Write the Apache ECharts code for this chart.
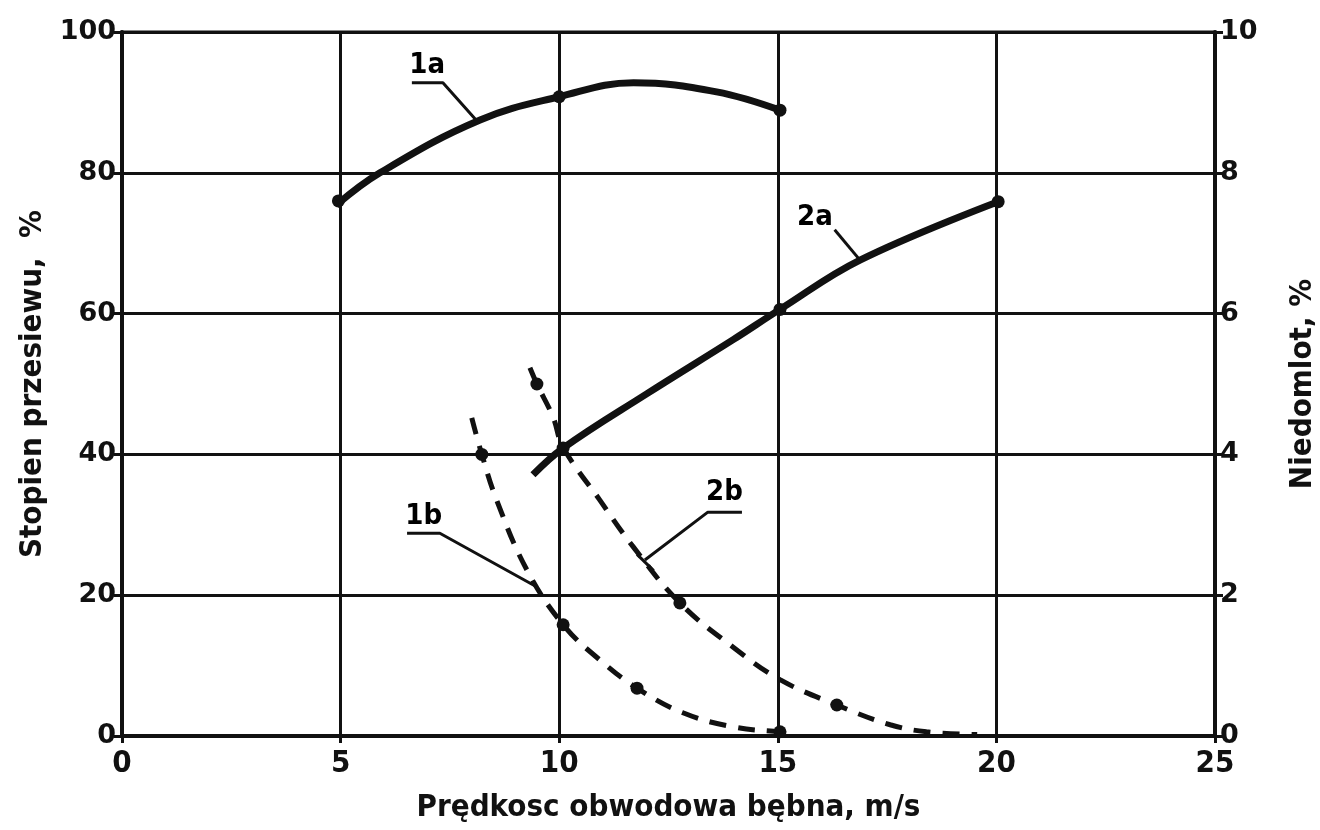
<!DOCTYPE html>
<html>
<head>
<meta charset="utf-8">
<script src="https://cdn.jsdelivr.net/npm/echarts@6/dist/echarts.min.js"></script>
<style>
  html, body { margin: 0; padding: 0; background: #fff; }
  #chart { width: 1320px; height: 830px; }
</style>
</head>
<body>
<div id="chart"></div>
<script>
// solid curves, left axis (%)
const curve1a = [[4.9, 75.4], [5.9, 80], [8.19, 87.5], [10, 90.8], [11.7, 92.8], [13.6, 91.5], [15.05, 88.9]];
const pts1a = [[4.95, 76], [10, 90.8], [15.05, 88.9]];
const curve2a = [[9.4, 37.1], [10.09, 40.9], [12, 48.6], [13.98, 56.3], [15.05, 60.6], [16.88, 67.6], [20.04, 75.9]];
const pts2a = [[10.09, 40.9], [15.05, 60.6], [20.04, 75.9]];

// dashed curves, right axis (%)
const curve1b = [[8.0, 4.52], [8.23, 4.0], [8.57, 3.35], [9.26, 2.36], [10.09, 1.58], [10.93, 1.08], [11.78, 0.68], [12.83, 0.33], [13.98, 0.13], [15.05, 0.06], [15.4, 0.05]];
const pts1b = [[8.23, 4.0], [10.09, 1.58], [11.78, 0.68], [15.05, 0.06]];
const curve2b = [[9.33, 5.23], [9.49, 5.0], [9.86, 4.53], [10.09, 4.1], [10.93, 3.35], [11.69, 2.69], [12.76, 1.89], [13.98, 1.26], [15.05, 0.8], [16.35, 0.44], [17.57, 0.16], [18.4, 0.06], [19.56, 0.02]];
const pts2b = [[9.49, 5.0], [12.76, 1.89], [16.35, 0.44]];

// curve labels and their leader lines (left axis units)
const tagNames = ["1a", "2a", "1b", "2b"];
const tagPos = [[6.98, 95.2], [15.85, 73.6], [6.9, 31.2], [13.78, 34.6]];
const leaders = [
  [[8.14, 87.2], [7.34, 92.8], [6.63, 92.8]],
  [[16.88, 67.6], [16.3, 71.9]],
  [[9.45, 21.3], [7.27, 28.8], [6.52, 28.8]],
  [[11.96, 25.0], [13.4, 31.8], [14.18, 31.8]],
  [[11.78, 25.8], [12.16, 23.5]]
];

const ink = "#111";
const numFont = { color: ink, fontSize: 27, fontWeight: "bold", fontFamily: "DejaVu Sans" };
const nameFont = { color: ink, fontSize: 31, fontWeight: "bold", fontFamily: "Liberation Sans Narrow, DejaVu Sans Condensed, sans-serif" };

function curve(data, yIdx, dashed) {
  return {
    type: "line", yAxisIndex: yIdx, data: data, smooth: 0.4, symbol: "none",
    lineStyle: dashed ? { color: ink, width: 5, type: [17, 12] } : { color: ink, width: 7 },
    z: 5
  };
}
function dots(data, yIdx) {
  return {
    type: "scatter", yAxisIndex: yIdx, data: data, symbolSize: 13,
    itemStyle: { color: ink, opacity: 1 }, z: 6
  };
}

const series = [
  curve(curve1a, 0, false), dots(pts1a, 0),
  curve(curve2a, 0, false), dots(pts2a, 0),
  curve(curve1b, 1, true), dots(pts1b, 1),
  curve(curve2b, 1, true), dots(pts2b, 1)
];
leaders.forEach(l => series.push({
  type: "line", yAxisIndex: 0, data: l, symbol: "none", smooth: false,
  lineStyle: { color: ink, width: 3 }, z: 4
}));
series.push({
  type: "scatter", yAxisIndex: 0, symbol: "circle", symbolSize: 2,
  itemStyle: { color: "rgba(0,0,0,0)", opacity: 1 },
  data: tagPos.map((p, i) => ({ value: p, name: tagNames[i] })),
  label: {
    show: true, position: "inside", formatter: p => p.name, opacity: 1,
    color: "#000", fontSize: 29, fontWeight: "bold", fontFamily: "DejaVu Sans Condensed, DejaVu Sans"
  },
  z: 7
});

const chart = echarts.init(document.getElementById("chart"), null, { renderer: "canvas" });
chart.setOption({
  animation: false,
  backgroundColor: "#fff",
  grid: {
    left: 122, right: 105, top: 32, bottom: 94, show: true, borderColor: ink, borderWidth: 3,
    outerBoundsMode: "none", containLabel: false
  },
  xAxis: {
    type: "value", min: 0, max: 25, interval: 5,
    name: "Prędkosc obwodowa bębna, m/s", nameLocation: "middle", nameGap: 56, nameTextStyle: nameFont,
    axisLine: { lineStyle: { color: ink, width: 4 } },
    axisTick: { show: true, length: 7, lineStyle: { color: ink, width: 3 } },
    axisLabel: { ...numFont, fontFamily: "Liberation Sans Narrow, DejaVu Sans Condensed", fontSize: 31, margin: 12 },
    splitLine: { lineStyle: { color: ink, width: 3 } }
  },
  yAxis: [
    {
      type: "value", min: 0, max: 100, interval: 20, position: "left",
      name: "Stopien przesiewu,  %", nameLocation: "middle", nameRotate: 90, nameGap: 68, nameTextStyle: nameFont,
      axisLine: { show: true, lineStyle: { color: ink, width: 4 } },
      axisTick: { show: true, length: 8, lineStyle: { color: ink, width: 3 } },
      axisLabel: { ...numFont, margin: 6 },
      splitLine: { lineStyle: { color: ink, width: 3 } }
    },
    {
      type: "value", min: 0, max: 10, interval: 2, position: "right",
      name: "Niedomlot, %", nameLocation: "middle", nameRotate: 90, nameGap: 72, nameTextStyle: nameFont,
      axisLine: { show: true, lineStyle: { color: ink, width: 4 } },
      axisTick: { show: true, length: 8, lineStyle: { color: ink, width: 3 } },
      axisLabel: { ...numFont, margin: 5 },
      splitLine: { show: false }
    }
  ],
  series: series
});
window.addEventListener("resize", () => chart.resize());
</script>
</body>
</html>
